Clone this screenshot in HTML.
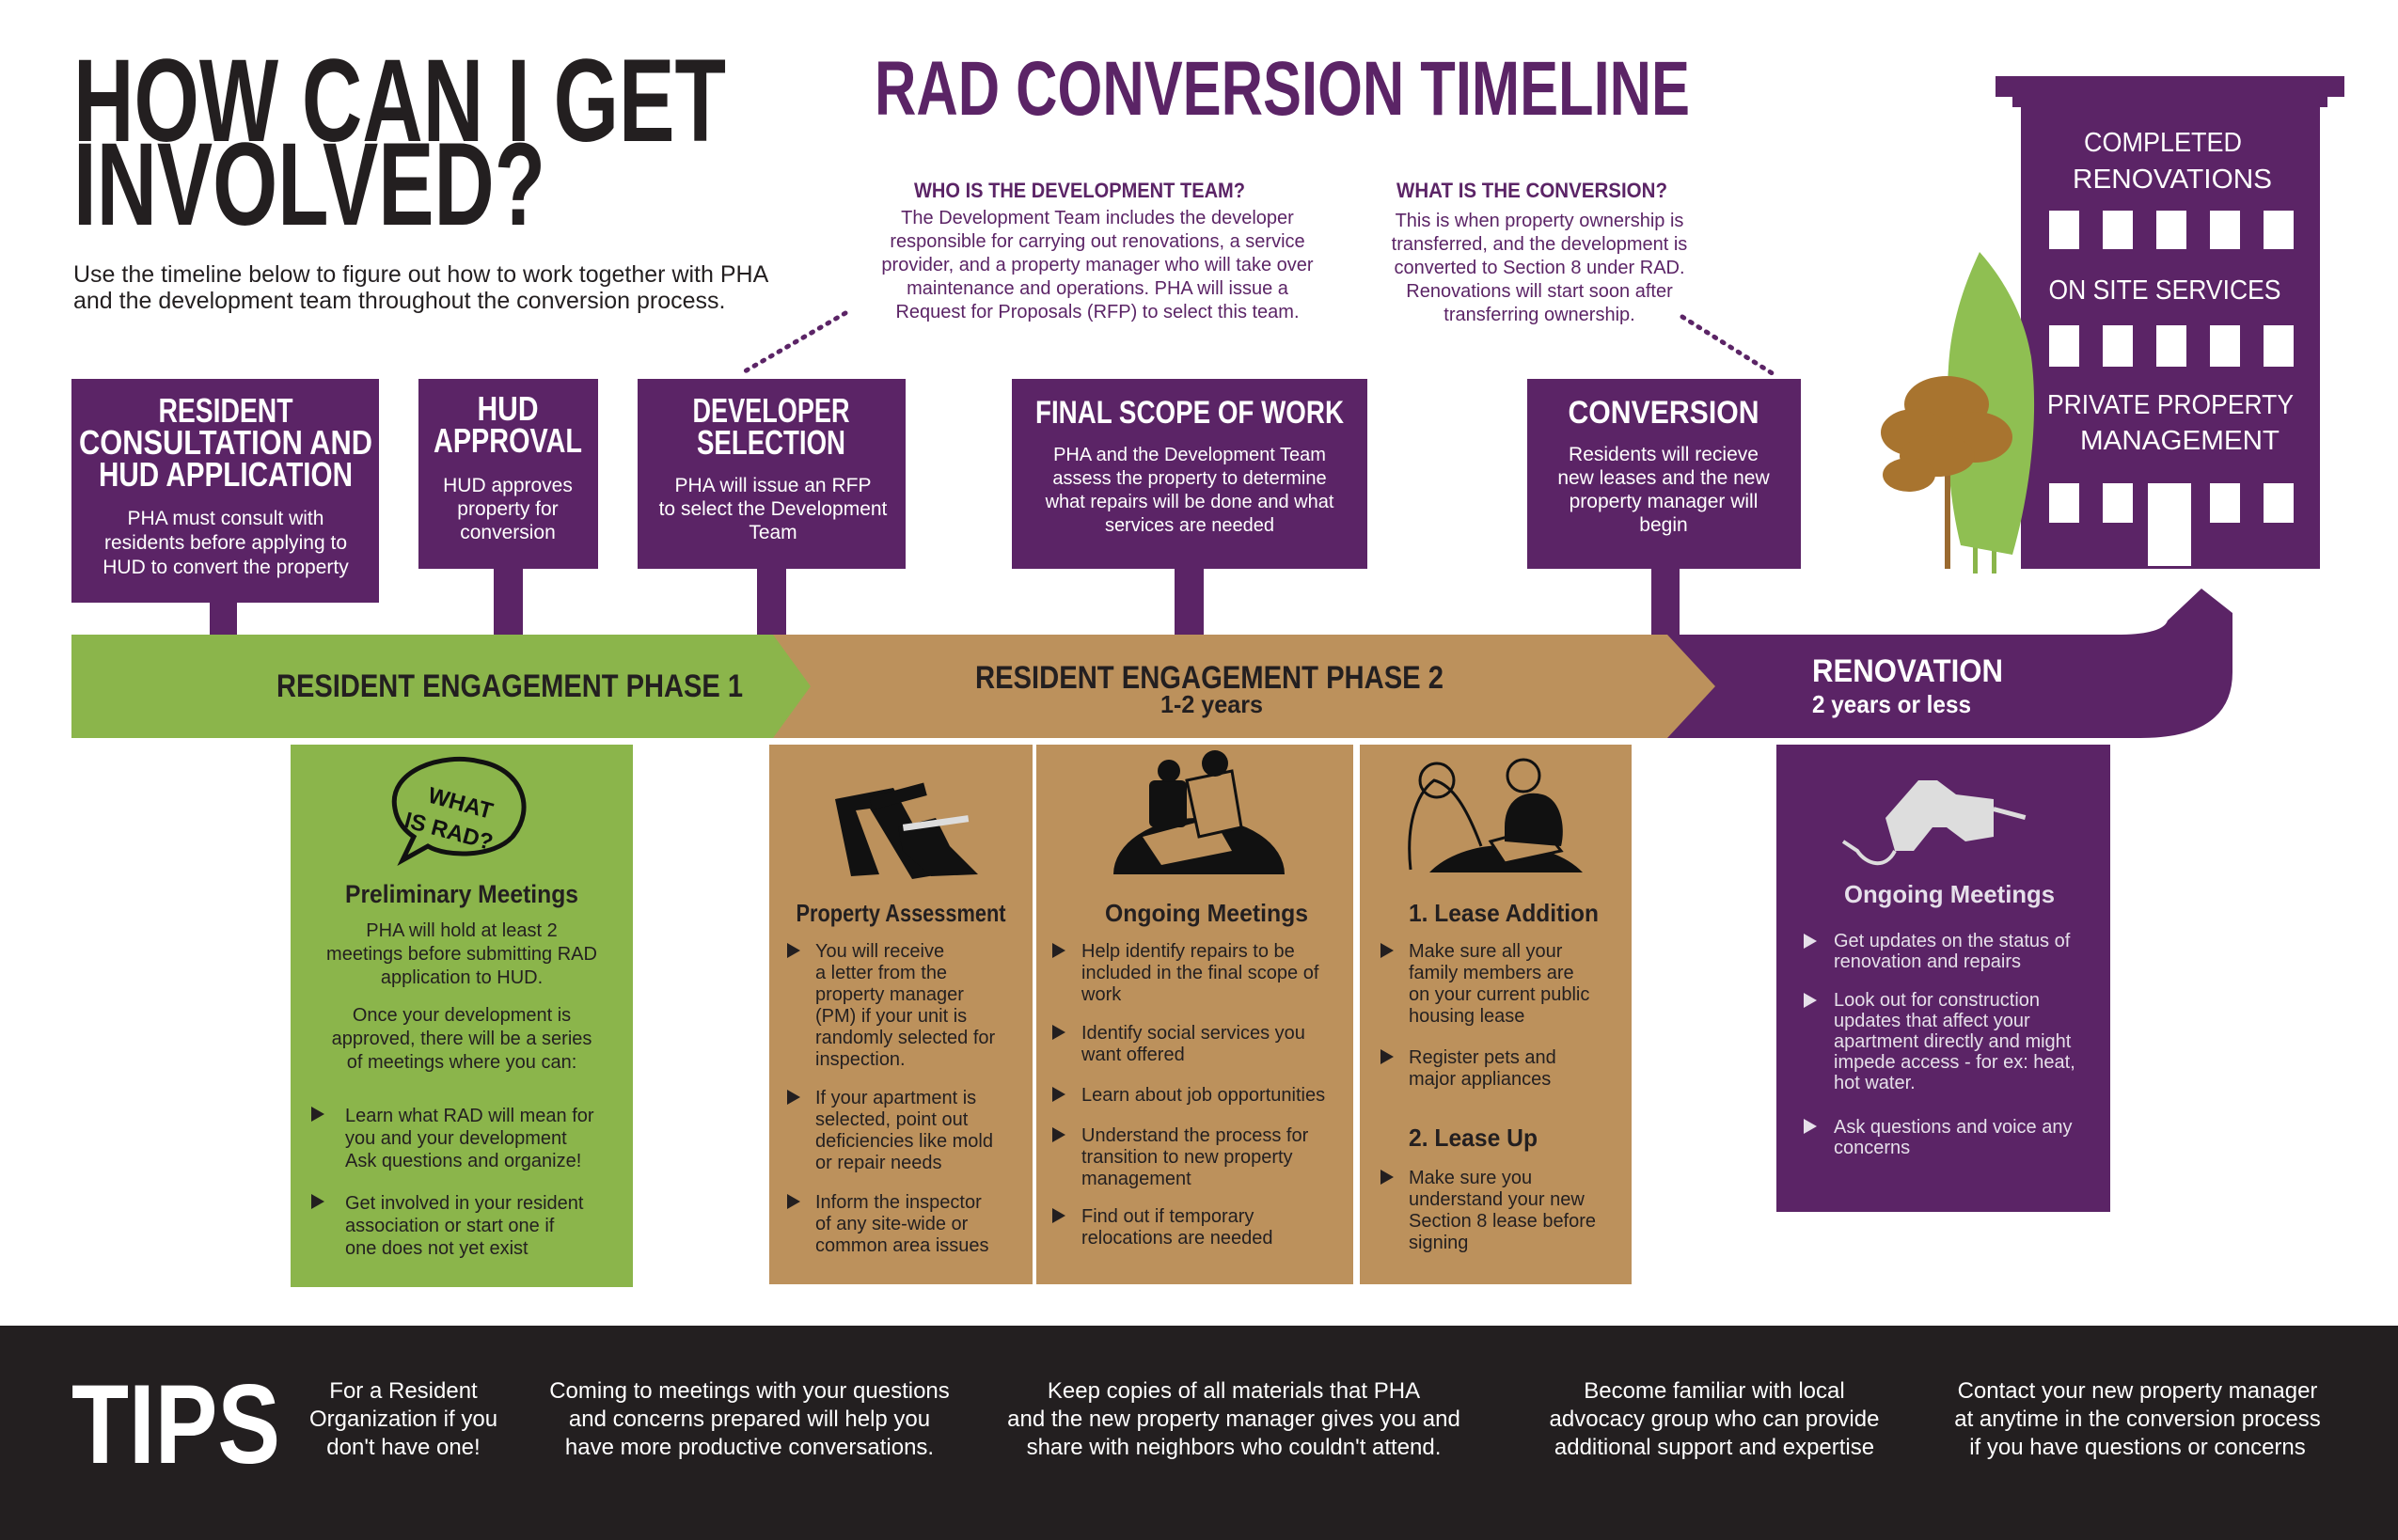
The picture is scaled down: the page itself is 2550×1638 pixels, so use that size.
<!DOCTYPE html>
<html><head><meta charset="utf-8"><style>
html,body{margin:0;padding:0;background:#fff;}
svg{display:block;}
text{font-family:"Liberation Sans",sans-serif;}
.h{font-weight:bold;}
</style></head><body>
<svg width="2550" height="1638" viewBox="0 0 2550 1638" xmlns="http://www.w3.org/2000/svg">
<rect width="2550" height="1638" fill="#fff"/>

<!-- Title -->
<text x="78" y="150" font-size="125" class="h" fill="#231f20" textLength="694" lengthAdjust="spacingAndGlyphs">HOW CAN I GET</text>
<text x="78" y="239" font-size="125" class="h" fill="#231f20" textLength="502" lengthAdjust="spacingAndGlyphs">INVOLVED?</text>
<text x="78" y="300" font-size="25" fill="#231f20">Use the timeline below to figure out how to work together with PHA</text>
<text x="78" y="328" font-size="25" fill="#231f20">and the development team throughout the conversion process.</text>

<text x="930" y="122" font-size="82" class="h" fill="#5b2466" textLength="867" lengthAdjust="spacingAndGlyphs">RAD CONVERSION TIMELINE</text>

<!-- annotations -->
<g fill="#5b2466" font-size="20" text-anchor="middle">
<text x="1148" y="210" class="h" font-size="22" textLength="352" lengthAdjust="spacingAndGlyphs">WHO IS THE DEVELOPMENT TEAM?</text>
<text x="1167" y="238">The Development Team includes the developer</text>
<text x="1167" y="263">responsible for carrying out renovations, a service</text>
<text x="1167" y="288">provider, and a property manager who will take over</text>
<text x="1167" y="313">maintenance and operations.  PHA will issue a</text>
<text x="1167" y="338">Request for Proposals (RFP) to select this team.</text>
<text x="1629" y="210" class="h" font-size="22" textLength="288" lengthAdjust="spacingAndGlyphs">WHAT IS THE CONVERSION?</text>
<text x="1637" y="241">This is when property ownership is</text>
<text x="1637" y="266">transferred, and the development is</text>
<text x="1637" y="291">converted to Section 8 under RAD.</text>
<text x="1637" y="316">Renovations will start soon after</text>
<text x="1637" y="341">transferring ownership.</text>
</g>
<line x1="899" y1="333" x2="792" y2="395" stroke="#5b2466" stroke-width="5" stroke-dasharray="2 8" stroke-linecap="round"/>
<line x1="1789" y1="337" x2="1886" y2="398" stroke="#5b2466" stroke-width="5" stroke-dasharray="2 8" stroke-linecap="round"/>

<!-- stems -->
<g fill="#5b2466">
<rect x="223" y="630" width="29" height="50"/>
<rect x="525" y="600" width="31" height="80"/>
<rect x="805" y="600" width="31" height="80"/>
<rect x="1249" y="600" width="31" height="80"/>
<rect x="1756" y="600" width="30" height="80"/>
</g>

<!-- top boxes -->
<g fill="#5b2466">
<rect x="76" y="403" width="327" height="238"/>
<rect x="445" y="403" width="191" height="202"/>
<rect x="678" y="403" width="285" height="202"/>
<rect x="1076" y="403" width="378" height="202"/>
<rect x="1624" y="403" width="291" height="202"/>
</g>
<g fill="#fff" class="h" font-size="36" text-anchor="middle">
<text x="240" y="449" class="h" textLength="143" lengthAdjust="spacingAndGlyphs">RESIDENT</text>
<text x="240" y="483" class="h" textLength="312" lengthAdjust="spacingAndGlyphs">CONSULTATION AND</text>
<text x="240" y="517" class="h" textLength="270" lengthAdjust="spacingAndGlyphs">HUD APPLICATION</text>
<text x="540" y="447" class="h" textLength="65" lengthAdjust="spacingAndGlyphs">HUD</text>
<text x="540" y="481" class="h" textLength="158" lengthAdjust="spacingAndGlyphs">APPROVAL</text>
<text x="820" y="449" class="h" textLength="167" lengthAdjust="spacingAndGlyphs">DEVELOPER</text>
<text x="820" y="483" class="h" textLength="158" lengthAdjust="spacingAndGlyphs">SELECTION</text>
<text x="1265" y="450" class="h" font-size="34" textLength="328" lengthAdjust="spacingAndGlyphs">FINAL SCOPE OF WORK</text>
<text x="1769" y="450" class="h" font-size="34" textLength="203" lengthAdjust="spacingAndGlyphs">CONVERSION</text>
</g>
<g fill="#fff" font-size="21" text-anchor="middle">
<text x="240" y="558">PHA  must consult with</text>
<text x="240" y="584">residents before applying to</text>
<text x="240" y="610">HUD to convert the property</text>
<text x="540" y="523">HUD approves</text>
<text x="540" y="548">property for</text>
<text x="540" y="573">conversion</text>
<text x="822" y="523">PHA will issue an RFP</text>
<text x="822" y="548">to select the Development</text>
<text x="822" y="573">Team</text>
<text x="1265" y="490" font-size="20">PHA and the Development Team</text>
<text x="1265" y="515" font-size="20">assess the property to determine</text>
<text x="1265" y="540" font-size="20">what repairs will be done and what</text>
<text x="1265" y="565" font-size="20">services are needed</text>
<text x="1769" y="490">Residents will recieve</text>
<text x="1769" y="515">new leases and the new</text>
<text x="1769" y="540">property manager will</text>
<text x="1769" y="565">begin</text>
</g>

<!-- building -->
<g fill="#5b2466">
<rect x="2122" y="81" width="371" height="22"/>
<rect x="2140" y="100" width="335" height="14"/>
<rect x="2149" y="110" width="318" height="495"/>
</g>
<g fill="#fff" font-size="29" text-anchor="middle">
<text x="2300" y="161" textLength="168" lengthAdjust="spacingAndGlyphs">COMPLETED</text>
<text x="2310" y="200" textLength="212" lengthAdjust="spacingAndGlyphs">RENOVATIONS</text>
<text x="2302" y="318" textLength="247" lengthAdjust="spacingAndGlyphs">ON SITE SERVICES</text>
<text x="2308" y="440" textLength="262" lengthAdjust="spacingAndGlyphs">PRIVATE PROPERTY</text>
<text x="2318" y="478" textLength="212" lengthAdjust="spacingAndGlyphs">MANAGEMENT</text>
</g>
<g fill="#fff">
<rect x="2179" y="224" width="32" height="41"/><rect x="2236" y="224" width="32" height="41"/><rect x="2293" y="224" width="32" height="41"/><rect x="2350" y="224" width="32" height="41"/><rect x="2407" y="224" width="32" height="41"/>
<rect x="2179" y="346" width="32" height="44"/><rect x="2236" y="346" width="32" height="44"/><rect x="2293" y="346" width="32" height="44"/><rect x="2350" y="346" width="32" height="44"/><rect x="2407" y="346" width="32" height="44"/>
<rect x="2179" y="514" width="32" height="42"/><rect x="2236" y="514" width="32" height="42"/><rect x="2284" y="514" width="46" height="88"/><rect x="2350" y="514" width="32" height="42"/><rect x="2407" y="514" width="32" height="42"/>
</g>

<!-- trees -->
<g>
<rect x="2118" y="430" width="5" height="180" fill="#8ab54a"/>
<rect x="2098" y="480" width="5" height="130" fill="#8ab54a"/>
<path d="M2105,268 C2090,300 2075,340 2072,390 C2068,450 2070,520 2085,580 L2140,590 C2160,520 2168,440 2160,380 C2152,330 2125,290 2105,268 Z" fill="#8fbf52"/>
<rect x="2068" y="470" width="6" height="135" fill="#9a6a30"/>
<ellipse cx="2070" cy="430" rx="45" ry="30" fill="#a8742f"/>
<ellipse cx="2035" cy="460" rx="35" ry="25" fill="#a8742f"/>
<ellipse cx="2100" cy="465" rx="40" ry="27" fill="#a8742f"/>
<ellipse cx="2060" cy="485" rx="40" ry="22" fill="#a8742f"/>
<ellipse cx="2030" cy="505" rx="28" ry="18" fill="#a8742f"/>
</g>

<!-- timeline bar -->
<path d="M1770,675 L2250,675 Q2300,675 2305,660 L2341,626 L2374,652 L2374,715 Q2374,785 2276,785 L1770,785 Z" fill="#5b2466"/>
<path d="M821,675 L1773,675 L1824,730 L1773,785 L821,785 Z" fill="#bc915c"/>
<path d="M76,675 L822,675 L862,730 L822,785 L76,785 Z" fill="#8bb54b"/>
<text x="294" y="741" class="h" font-size="34" fill="#231f20" textLength="496" lengthAdjust="spacingAndGlyphs">RESIDENT ENGAGEMENT PHASE 1</text>
<text x="1037" y="732" class="h" font-size="34" fill="#231f20" textLength="498" lengthAdjust="spacingAndGlyphs">RESIDENT ENGAGEMENT PHASE 2</text>
<text x="1234" y="758" class="h" font-size="26" fill="#231f20" textLength="109" lengthAdjust="spacingAndGlyphs">1-2 years</text>
<text x="1927" y="725" class="h" font-size="34" fill="#fff" textLength="203" lengthAdjust="spacingAndGlyphs">RENOVATION</text>
<text x="1927" y="758" class="h" font-size="26" fill="#fff" textLength="169" lengthAdjust="spacingAndGlyphs">2 years or less</text>

<!-- panels -->
<rect x="309" y="792" width="364" height="577" fill="#8bb54b"/>
<rect x="818" y="792" width="280" height="574" fill="#bc915c"/>
<rect x="1102" y="792" width="337" height="574" fill="#bc915c"/>
<rect x="1446" y="792" width="289" height="574" fill="#bc915c"/>
<rect x="1889" y="792" width="355" height="497" fill="#5b2466"/>

<!-- icons -->
<g>
<path d="M420,860 C412,820 470,800 510,810 C555,818 570,860 545,890 C525,912 475,912 455,900 L428,915 L440,890 C428,882 422,872 420,860 Z" fill="none" stroke="#111" stroke-width="5"/>
<text x="455" y="857" font-size="24" class="h" fill="#111" transform="rotate(15 470 850)">WHAT</text>
<text x="430" y="890" font-size="24" class="h" fill="#111" transform="rotate(15 470 880)">IS RAD?</text>
</g>
<g fill="#111">
<path d="M888,850 L950,838 L1000,930 L970,935 L925,860 L910,862 L935,930 L905,932 Z"/>
<rect x="925" y="840" width="60" height="14" transform="rotate(-15 955 847)"/>
<path d="M955,880 L995,870 L1010,900 L1040,930 L990,932 L960,905 Z"/>
<rect x="960" y="872" width="70" height="7" fill="#ddd" transform="rotate(-8 995 875)"/>
</g>
<g fill="#111">
<path d="M1184,930 A91,60 0 0 1 1366,930 Z"/>
<path d="M1215,890 L1290,870 L1310,905 L1235,920 Z" fill="#bc915c"/>
<rect x="1222" y="830" width="40" height="50" rx="6"/>
<circle cx="1243" cy="820" r="12"/>
<path d="M1262,830 L1310,820 L1320,880 L1275,890 Z" fill="#bc915c" stroke="#111" stroke-width="3"/>
<circle cx="1292" cy="812" r="14" fill="#111"/>
</g>
<g>
<path d="M1520,928 A95,60 0 0 1 1683,928 Z" fill="#111"/>
<path d="M1585,895 L1640,880 L1660,905 L1600,918 Z" fill="#bc915c" stroke="#111" stroke-width="3"/>
<path d="M1500,925 C1495,880 1505,845 1525,830 C1545,835 1560,860 1575,900" fill="none" stroke="#111" stroke-width="3"/>
<circle cx="1528" cy="830" r="18" fill="none" stroke="#111" stroke-width="3"/>
<path d="M1600,880 C1600,850 1620,840 1640,845 C1660,850 1665,880 1660,900 L1600,895 Z" fill="#111"/>
<circle cx="1620" cy="825" r="17" fill="none" stroke="#111" stroke-width="3"/>
</g>
<g fill="#ddd">
<path d="M2005,870 L2040,830 L2060,830 L2080,845 L2120,850 L2120,890 L2090,895 L2070,880 L2055,880 L2035,905 L2015,905 Z"/>
<rect x="2120" y="858" width="35" height="5" transform="rotate(15 2120 860)"/>
<path d="M2015,905 C2005,925 1985,920 1975,905 L1960,895" fill="none" stroke="#ddd" stroke-width="4"/>
</g>

<!-- panel text -->
<g fill="#231f20" font-size="20">
<text x="491" y="960" class="h" font-size="27" text-anchor="middle" textLength="248" lengthAdjust="spacingAndGlyphs">Preliminary Meetings</text>
<g text-anchor="middle">
<text x="491" y="996">PHA  will hold at least 2</text>
<text x="491" y="1021">meetings before submitting RAD</text>
<text x="491" y="1046">application to HUD.</text>
<text x="491" y="1086">Once your development is</text>
<text x="491" y="1111">approved, there will be a series</text>
<text x="491" y="1136">of meetings where you can:</text>
</g>
<text x="367" y="1193">Learn what RAD will mean for</text>
<text x="367" y="1217">you and your development</text>
<text x="367" y="1241">Ask questions and organize!</text>
<text x="367" y="1286">Get involved in your resident</text>
<text x="367" y="1310">association or start one if</text>
<text x="367" y="1334">one does not yet exist</text>
<polygon points="331,1177 345,1185 331,1193"/>
<polygon points="331,1270 345,1278 331,1286"/>

<text x="958" y="980" class="h" font-size="26" text-anchor="middle" textLength="223" lengthAdjust="spacingAndGlyphs">Property Assessment</text>
<text x="867" y="1018">You will receive</text>
<text x="867" y="1041">a letter from the</text>
<text x="867" y="1064">property manager</text>
<text x="867" y="1087">(PM) if your unit is</text>
<text x="867" y="1110">randomly selected for</text>
<text x="867" y="1133">inspection.</text>
<text x="867" y="1174">If your apartment is</text>
<text x="867" y="1197">selected, point out</text>
<text x="867" y="1220">deficiencies like mold</text>
<text x="867" y="1243">or repair needs</text>
<text x="867" y="1285">Inform the inspector</text>
<text x="867" y="1308">of any site-wide or</text>
<text x="867" y="1331">common area issues</text>
<polygon points="837,1003 851,1011 837,1019"/>
<polygon points="837,1159 851,1167 837,1175"/>
<polygon points="837,1270 851,1278 837,1286"/>

<text x="1283" y="980" class="h" font-size="26" text-anchor="middle" textLength="216" lengthAdjust="spacingAndGlyphs">Ongoing Meetings</text>
<text x="1150" y="1018">Help identify repairs to be</text>
<text x="1150" y="1041">included in the final scope of</text>
<text x="1150" y="1064">work</text>
<text x="1150" y="1105">Identify social services you</text>
<text x="1150" y="1128">want offered</text>
<text x="1150" y="1171">Learn about job opportunities</text>
<text x="1150" y="1214">Understand the process for</text>
<text x="1150" y="1237">transition to new property</text>
<text x="1150" y="1260">management</text>
<text x="1150" y="1300">Find out if temporary</text>
<text x="1150" y="1323">relocations are needed</text>
<polygon points="1119,1003 1133,1011 1119,1019"/>
<polygon points="1119,1090 1133,1098 1119,1106"/>
<polygon points="1119,1156 1133,1164 1119,1172"/>
<polygon points="1119,1199 1133,1207 1119,1215"/>
<polygon points="1119,1285 1133,1293 1119,1301"/>

<text x="1498" y="980" class="h" font-size="26" textLength="202" lengthAdjust="spacingAndGlyphs">1. Lease Addition</text>
<text x="1498" y="1018">Make sure all your</text>
<text x="1498" y="1041">family members are</text>
<text x="1498" y="1064">on your current public</text>
<text x="1498" y="1087">housing lease</text>
<text x="1498" y="1131">Register pets and</text>
<text x="1498" y="1154">major appliances</text>
<text x="1498" y="1219" class="h" font-size="26" textLength="137" lengthAdjust="spacingAndGlyphs">2. Lease Up</text>
<text x="1498" y="1259">Make sure you</text>
<text x="1498" y="1282">understand your new</text>
<text x="1498" y="1305">Section 8 lease before</text>
<text x="1498" y="1328">signing</text>
<polygon points="1468,1003 1482,1011 1468,1019"/>
<polygon points="1468,1116 1482,1124 1468,1132"/>
<polygon points="1468,1244 1482,1252 1468,1260"/>
</g>
<g fill="#e6e0ea" font-size="20">
<text x="2073" y="960" class="h" font-size="26" text-anchor="middle" textLength="224" lengthAdjust="spacingAndGlyphs">Ongoing  Meetings</text>
<text x="1950" y="1007">Get updates on the status of</text>
<text x="1950" y="1029">renovation and repairs</text>
<text x="1950" y="1070">Look out for construction</text>
<text x="1950" y="1092">updates that affect your</text>
<text x="1950" y="1114">apartment directly and might</text>
<text x="1950" y="1136">impede access - for ex: heat,</text>
<text x="1950" y="1158">hot water.</text>
<text x="1950" y="1205">Ask questions and voice any</text>
<text x="1950" y="1227">concerns</text>
<polygon points="1918,993 1932,1001 1918,1009"/>
<polygon points="1918,1056 1932,1064 1918,1072"/>
<polygon points="1918,1190 1932,1198 1918,1206"/>
</g>

<!-- footer -->
<rect x="0" y="1410" width="2550" height="228" fill="#231f20"/>
<text x="76" y="1556" class="h" font-size="120" fill="#fff" textLength="222" lengthAdjust="spacingAndGlyphs">TIPS</text>
<g fill="#fff" font-size="24" text-anchor="middle">
<text x="429" y="1487">For a Resident</text>
<text x="429" y="1517">Organization if you</text>
<text x="429" y="1547">don't have one!</text>
<text x="797" y="1487">Coming to meetings with your questions</text>
<text x="797" y="1517">and concerns prepared will help you</text>
<text x="797" y="1547">have more productive conversations.</text>
<text x="1312" y="1487">Keep copies of all materials that PHA</text>
<text x="1312" y="1517">and the new property manager gives you and</text>
<text x="1312" y="1547">share with neighbors who couldn't attend.</text>
<text x="1823" y="1487">Become familiar with local</text>
<text x="1823" y="1517">advocacy group who can provide</text>
<text x="1823" y="1547">additional support and expertise</text>
<text x="2273" y="1487">Contact your new property manager</text>
<text x="2273" y="1517">at anytime in the conversion process</text>
<text x="2273" y="1547">if you have questions or concerns</text>
</g>
</svg>
</body></html>
